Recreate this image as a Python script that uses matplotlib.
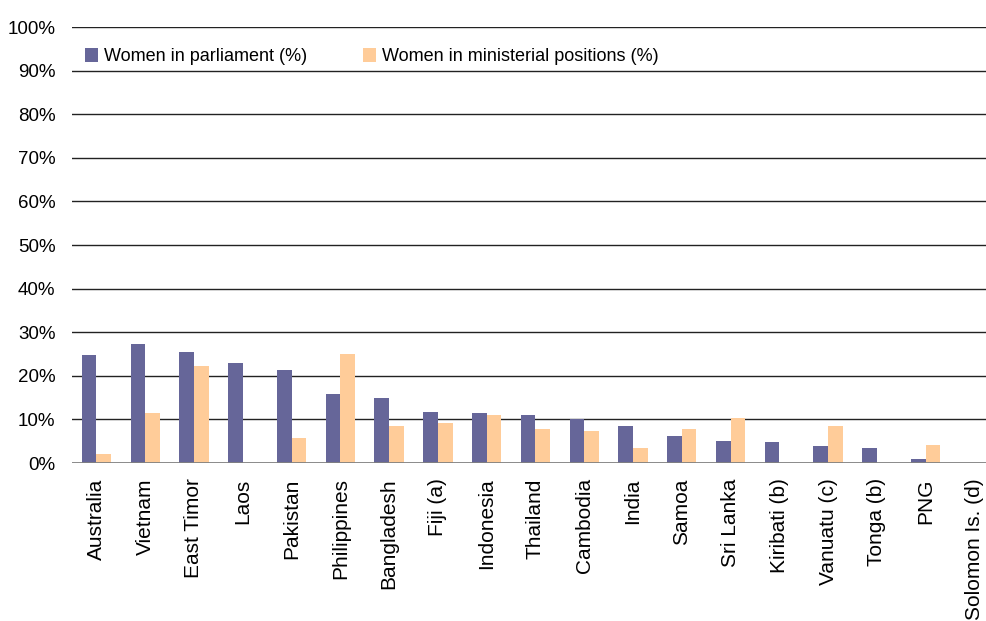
import matplotlib
matplotlib.use("Agg")
import matplotlib.pyplot as plt
import numpy as np

plt.rcParams['font.family'] = ['Liberation Sans', 'DejaVu Sans']

countries = ["Australia", "Vietnam", "East Timor", "Laos", "Pakistan", "Philippines",
             "Bangladesh", "Fiji (a)", "Indonesia", "Thailand", "Cambodia", "India",
             "Samoa", "Sri Lanka", "Kiribati (b)", "Vanuatu (c)", "Tonga (b)", "PNG",
             "Solomon Is. (d)"]
parliament = [24.8, 27.3, 25.4, 23.0, 21.3, 15.8, 14.9, 11.7, 11.4, 11.0, 10.0, 8.5,
              6.2, 5.0, 4.8, 3.8, 3.4, 0.9, 0.0]
ministerial = [2.0, 11.4, 22.2, 0.0, 5.7, 25.0, 8.5, 9.2, 11.0, 7.8, 7.3, 3.4,
               7.8, 10.3, 0.0, 8.5, 0.0, 4.1, 0.0]
yticks = [0, 10, 20, 30, 40, 50, 60, 70, 80, 90, 100]
ytick_labels = [f"{v}%" for v in yticks]

fig = plt.figure(figsize=(9.87, 6.21), dpi=100)
ax = fig.add_axes([0.073, 0.2544, 0.939, 0.7021])

x = np.arange(len(countries))
w = 0.30
ax.bar(x - w / 2, parliament, width=w, color="#666699", label="Women in parliament (%)", zorder=3)
ax.bar(x + w / 2, ministerial, width=w, color="#FFCC99", label="Women in ministerial positions (%)", zorder=3)

ax.set_xlim(-0.5, len(countries) - 0.5)
ax.set_ylim(0, 100)
ax.set_yticks(yticks)
ax.set_yticklabels(ytick_labels, fontsize=13.5)
for v in yticks[1:]:
    ax.axhline(v, color="#222222", lw=1.0, zorder=1)
ax.axhline(0, color="#808080", lw=2.0, zorder=4)

ax.set_xticks(x)
ax.set_xticklabels(countries, rotation=90, fontsize=15, va="top", ha="center")
ax.tick_params(axis="both", length=0)
ax.tick_params(axis="y", pad=12)
ax.tick_params(axis="x", pad=11)
for s in ax.spines.values():
    s.set_visible(False)

leg = ax.legend(loc="upper left", bbox_to_anchor=(0.0, 0.98), ncol=2, frameon=False,
                fontsize=13, handlelength=0.75, handleheight=0.75, handletextpad=0.3,
                columnspacing=3.1, borderaxespad=0.3)

fig.savefig("out.png", dpi=100)
